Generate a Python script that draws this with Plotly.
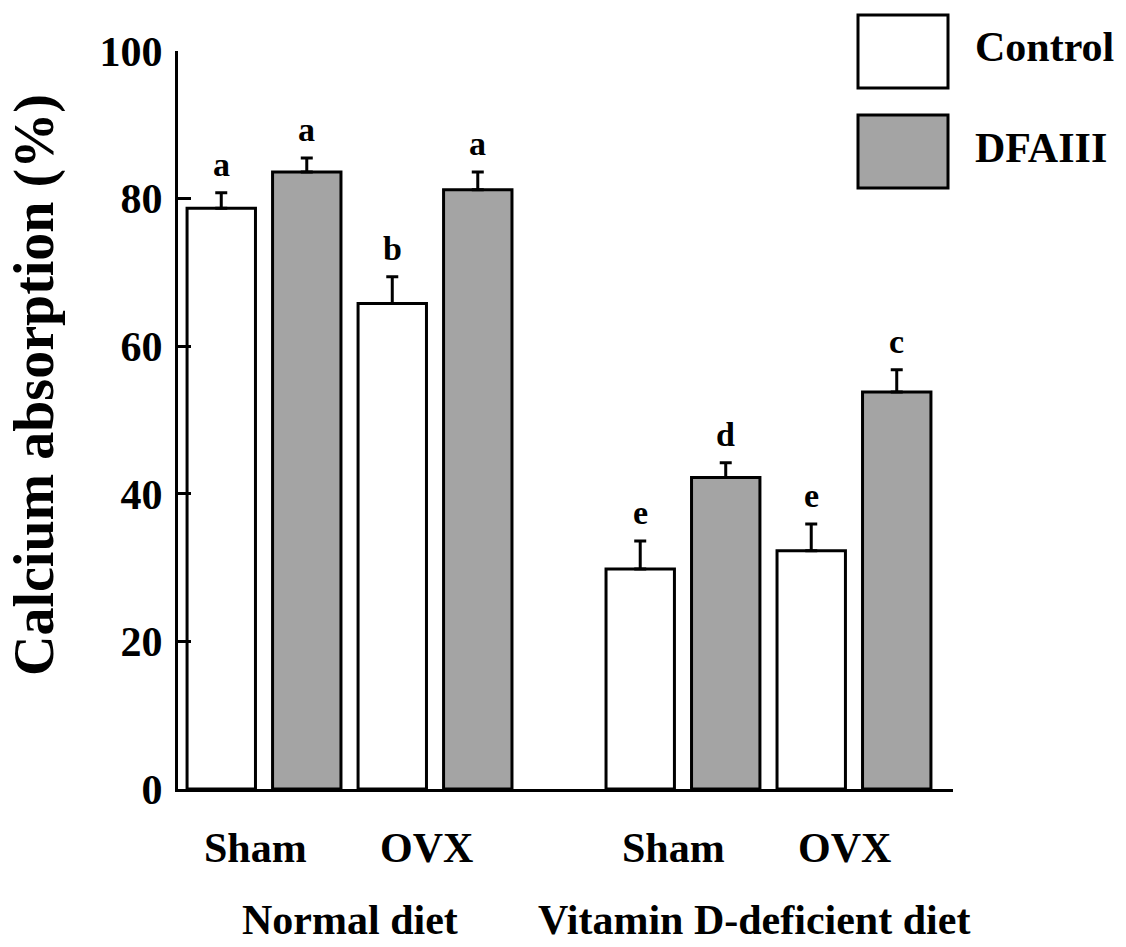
import plotly.graph_objects as go

# ---- data ----
diets = ["Normal diet", "Vitamin D-deficient diet"]
groups = ["Sham", "OVX", "Sham", "OVX"]
group_diet = [0, 0, 1, 1]
control_vals = [78.7, 65.8, 29.8, 32.3]
control_err = [2.1, 3.6, 3.8, 3.6]
control_sig = ["a", "b", "e", "e"]
dfa_vals = [83.6, 81.2, 42.2, 53.8]
dfa_err = [1.9, 2.4, 2.0, 3.0]
dfa_sig = ["a", "a", "d", "c"]
y_ticks = [0, 20, 40, 60, 80, 100]

# ---- layout constants (page pixels; the page body adds an 8px margin) ----
OFF = 8
W, H = 1126 - 2 * OFF, 947 - 2 * OFF
PLOT_L, PLOT_R, PLOT_T, PLOT_B = 178, 953, 51, 789   # page pixels
L = PLOT_L - OFF
R = W - (PLOT_R - OFF)
T = PLOT_T - OFF
B = H - (PLOT_B - OFF)
diet_gap = 1.45
half_pitch = 0.25
bar_w = 0.4
x_range = [-0.503, 4.029]
FONT = "Liberation Serif, Times New Roman, serif"
GRAY = "#a4a4a4"

centers = []
for i, d in enumerate(group_diet):
    within = i - 2 * d
    centers.append(within + d * (1 + diet_gap))
x_ctrl = [c - half_pitch for c in centers]
x_dfa = [c + half_pitch for c in centers]

pw = PLOT_R - PLOT_L
ph = PLOT_B - PLOT_T
def px_x(p):
    return (p - PLOT_L) / pw
def px_y(p):
    return (PLOT_B - p) / ph

fig = go.Figure()
fig.add_trace(go.Bar(
    x=x_ctrl, y=control_vals, width=bar_w, name="Control",
    marker=dict(color="white", line=dict(color="black", width=3)),
    error_y=dict(type="data", array=control_err, arrayminus=[0] * 4, symmetric=False,
                 color="black", thickness=3, width=6),
))
fig.add_trace(go.Bar(
    x=x_dfa, y=dfa_vals, width=bar_w, name="DFAIII",
    marker=dict(color=GRAY, line=dict(color="black", width=3)),
    error_y=dict(type="data", array=dfa_err, arrayminus=[0] * 4, symmetric=False,
                 color="black", thickness=3, width=6),
))

ann = []
for xs, vs, es, ss in [(x_ctrl, control_vals, control_err, control_sig),
                       (x_dfa, dfa_vals, dfa_err, dfa_sig)]:
    for x, v, e, s in zip(xs, vs, es, ss):
        ann.append(dict(x=x, y=v + e, xref="x", yref="y", text="<b>%s</b>" % s,
                        showarrow=False, yanchor="bottom", yshift=8,
                        font=dict(family=FONT, size=34, color="black")))

# group labels
for c, g in zip(centers, groups):
    ann.append(dict(x=c, y=px_y(848), xref="x", yref="paper", text="<b>%s</b>" % g,
                    showarrow=False, xanchor="center", yanchor="middle", xshift=-9,
                    font=dict(family=FONT, size=42, color="black")))
# diet labels
for d, name in enumerate(diets):
    cs = [c for c, gd in zip(centers, group_diet) if gd == d]
    mid = sum(cs) / len(cs)
    ann.append(dict(x=mid, y=px_y(920), xref="x", yref="paper", text="<b>%s</b>" % name,
                    showarrow=False, xanchor="center", yanchor="middle",
                    xshift=0 if d == 0 else -14,
                    font=dict(family=FONT, size=42, color="black")))

# y title
ann.append(dict(x=px_x(34), y=px_y(385), xref="paper", yref="paper",
                text="<b>Calcium absorption (%)</b>", textangle=-90, showarrow=False,
                xanchor="center", yanchor="middle",
                font=dict(family=FONT, size=56, color="black")))

# legend
shapes = []
legend_items = [("Control", "white", 15, 88), ("DFAIII", GRAY, 115, 188)]
for name, col, y0, y1 in legend_items:
    shapes.append(dict(type="rect", xref="paper", yref="paper",
                       x0=px_x(858), x1=px_x(948), y0=px_y(y1), y1=px_y(y0),
                       fillcolor=col, line=dict(color="black", width=3)))
    ann.append(dict(x=px_x(973), y=px_y((y0 + y1) / 2 - 4), xref="paper", yref="paper",
                    text="<b>%s</b>" % name, showarrow=False, xanchor="left", yanchor="middle",
                    font=dict(family=FONT, size=42, color="black")))

fig.update_layout(
    width=W, height=H, margin=dict(l=L, r=R, t=T, b=B),
    paper_bgcolor="white", plot_bgcolor="white",
    barmode="overlay", showlegend=False,
    annotations=ann, shapes=shapes,
    xaxis=dict(range=x_range, showticklabels=False, ticks="", showgrid=False,
               zeroline=False, showline=True, linecolor="black", linewidth=3),
    yaxis=dict(range=[0, 100], tickvals=y_ticks, ticks="inside", ticklen=13,
               tickwidth=3, tickcolor="black", showgrid=False, zeroline=False,
               showline=True, linecolor="black", linewidth=3, ticklabelstandoff=4,
               tickfont=dict(family=FONT, size=42, color="black", weight="bold")),
)
fig.write_html("out.html")
